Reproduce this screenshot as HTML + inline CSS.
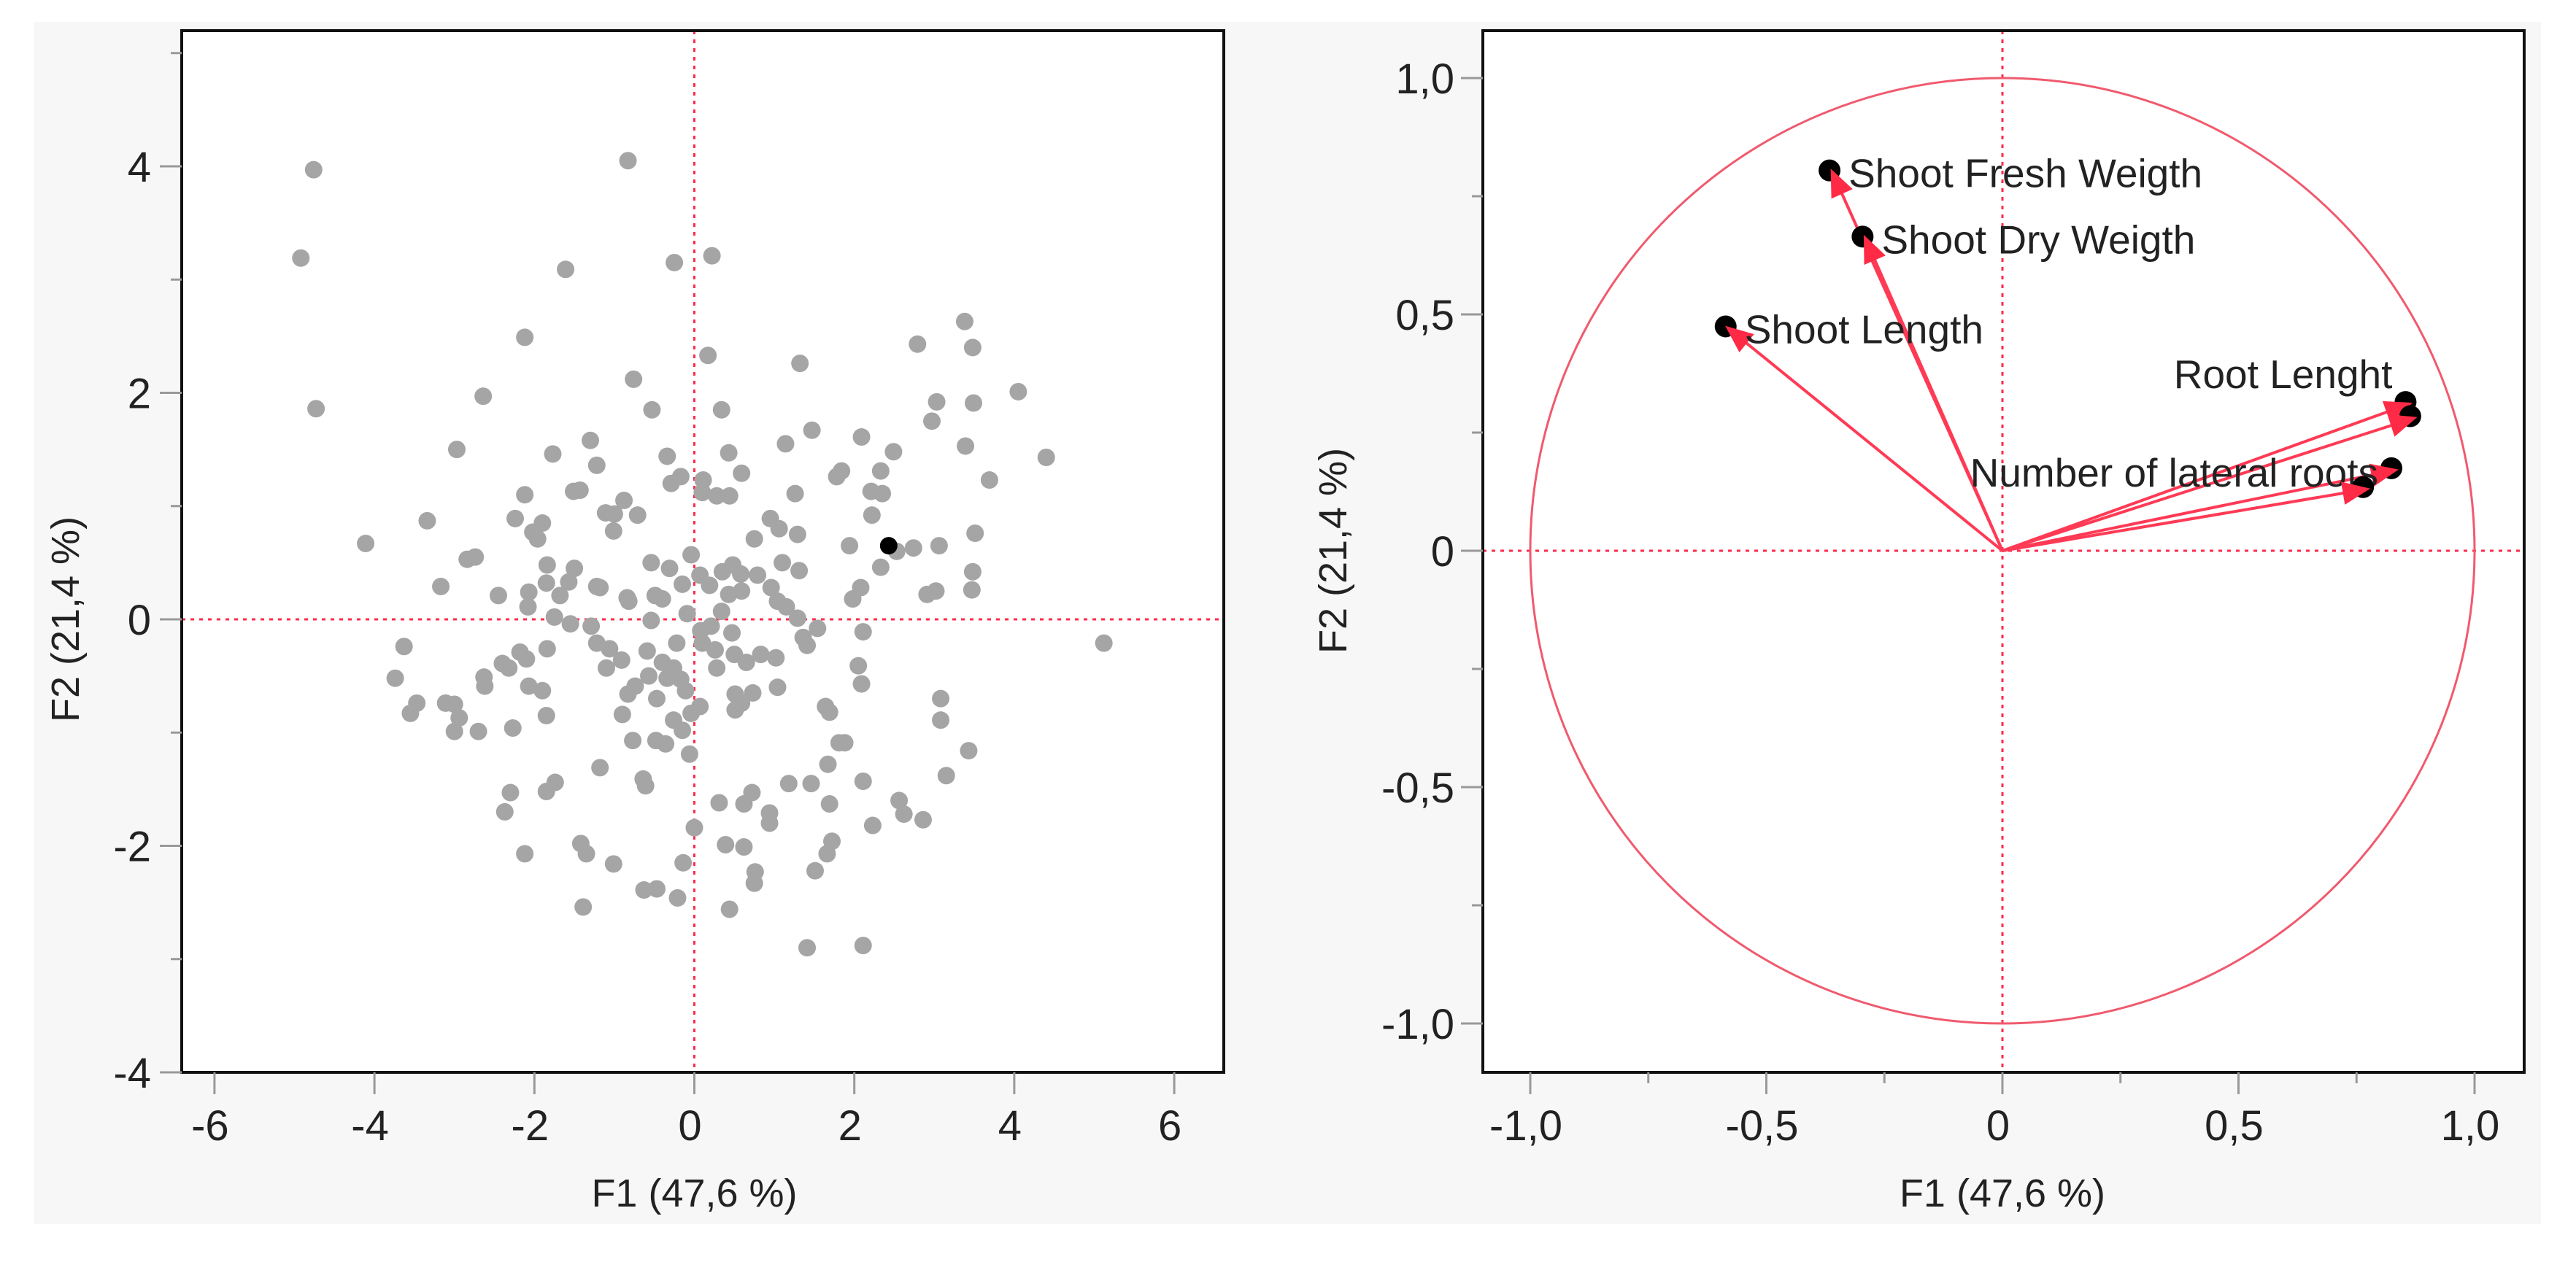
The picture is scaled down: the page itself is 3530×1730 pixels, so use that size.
<!DOCTYPE html>
<html><head><meta charset="utf-8"><style>
html,body{margin:0;padding:0;background:#fff;}
svg{display:block;font-family:"Liberation Sans",sans-serif;}
</style></head><body>
<svg id="chart" width="3530" height="1730" xmlns="http://www.w3.org/2000/svg">
<rect x="47" y="30" width="3435" height="1648" fill="#f7f7f7"/>
<g id="left"></g>
<g id="right"></g>
</svg>
<script>
const NS="http://www.w3.org/2000/svg";
const obsX=[-4.76,-0.83,-4.92,-1.61,-0.25,0.22,3.38,2.79,3.48,-2.12,0.17,1.32,-0.76,4.05,-2.64,-4.73,-0.53,0.34,3.03,3.49,2.97,1.47,2.09,1.14,-1.30,-2.97,-1.77,0.43,2.49,3.39,4.40,-0.34,-1.22,2.33,1.84,1.78,0.59,-0.17,-0.29,0.11,3.69,-1.51,-1.43,-2.12,0.10,0.28,0.44,1.26,2.21,2.35,2.22,-0.88,-1.11,-0.71,-1.00,-2.24,-3.34,-1.90,0.95,1.06,-1.01,-2.02,3.51,0.75,1.29,-4.11,1.94,2.74,3.06,2.53,-1.96,-2.74,-2.84,-0.04,-1.84,-1.50,-0.54,-0.31,1.10,1.31,2.33,3.48,0.35,0.48,0.58,0.79,0.07,-1.57,-1.85,-1.22,-1.18,-3.17,-0.15,0.19,0.96,2.08,3.47,2.91,3.02,-2.07,-2.45,-1.68,-0.84,-0.49,-0.40,0.43,0.59,1.98,-0.82,-2.08,-0.09,1.04,1.15,0.34,-1.75,1.29,-0.54,-1.29,-1.55,0.21,0.08,0.47,1.54,2.11,5.12,1.36,-3.63,-1.22,-0.22,-1.84,-1.06,-0.59,0.10,1.41,0.26,0.50,0.83,1.02,-2.18,-2.10,-2.40,-0.91,-0.40,0.65,-2.32,-1.10,-0.26,2.05,0.28,-3.74,-2.63,-0.57,-0.34,-0.17,-2.62,-2.07,-1.90,1.04,-0.74,2.09,-0.11,-0.83,0.51,0.73,3.08,-0.47,-3.11,-3.00,-3.47,0.59,0.07,1.64,-3.55,-0.90,-1.85,1.69,0.51,-0.04,-2.94,3.08,-0.26,-3.00,-2.70,-2.27,-0.15,-0.77,-0.48,-0.36,1.81,1.88,3.43,-0.06,-1.18,1.67,3.15,-0.64,-1.74,-0.61,1.18,1.46,2.11,-1.85,-2.30,0.72,2.56,0.31,0.62,1.69,-2.37,2.62,0.94,2.86,2.23,0.94,0.00,-1.42,0.39,0.62,1.72,-1.35,-2.12,1.66,-0.14,-1.01,0.76,1.51,0.75,-0.63,-0.47,-0.21,-1.39,0.44,1.41,2.11];
const obsY=[3.97,4.05,3.19,3.09,3.15,3.21,2.63,2.43,2.40,2.49,2.33,2.26,2.12,2.01,1.97,1.86,1.85,1.85,1.92,1.91,1.75,1.67,1.61,1.55,1.58,1.50,1.46,1.47,1.48,1.53,1.43,1.44,1.36,1.31,1.31,1.26,1.29,1.26,1.20,1.23,1.23,1.13,1.14,1.10,1.12,1.09,1.09,1.11,1.13,1.11,0.92,1.05,0.94,0.92,0.93,0.89,0.87,0.85,0.89,0.80,0.78,0.77,0.76,0.71,0.75,0.67,0.65,0.63,0.65,0.60,0.71,0.55,0.53,0.57,0.48,0.45,0.50,0.45,0.50,0.43,0.46,0.42,0.42,0.48,0.40,0.39,0.39,0.33,0.32,0.29,0.28,0.29,0.31,0.30,0.28,0.28,0.26,0.22,0.25,0.24,0.21,0.21,0.19,0.21,0.18,0.22,0.25,0.18,0.16,0.11,0.05,0.16,0.11,0.07,0.02,0.01,-0.01,-0.06,-0.04,-0.06,-0.10,-0.12,-0.08,-0.11,-0.21,-0.16,-0.24,-0.21,-0.21,-0.26,-0.26,-0.28,-0.21,-0.23,-0.27,-0.31,-0.31,-0.34,-0.29,-0.35,-0.39,-0.36,-0.38,-0.38,-0.43,-0.43,-0.43,-0.41,-0.43,-0.52,-0.51,-0.50,-0.52,-0.53,-0.59,-0.59,-0.63,-0.60,-0.59,-0.57,-0.63,-0.66,-0.66,-0.65,-0.70,-0.70,-0.74,-0.75,-0.74,-0.74,-0.77,-0.77,-0.83,-0.84,-0.85,-0.82,-0.80,-0.83,-0.87,-0.89,-0.89,-0.99,-0.99,-0.96,-0.98,-1.07,-1.07,-1.10,-1.09,-1.09,-1.16,-1.19,-1.31,-1.28,-1.38,-1.41,-1.44,-1.47,-1.45,-1.45,-1.43,-1.52,-1.53,-1.53,-1.60,-1.62,-1.63,-1.63,-1.70,-1.72,-1.71,-1.77,-1.82,-1.80,-1.84,-1.98,-1.99,-2.01,-1.96,-2.07,-2.07,-2.07,-2.15,-2.16,-2.23,-2.22,-2.33,-2.39,-2.38,-2.46,-2.54,-2.56,-2.90,-2.88];
const activeX=[2.43];
const activeY=[0.65];
const leftXTicks=[-6,-4,-2,0,2,4,6];
const leftYTicks=[-4,-2,0,2,4];
const leftYMinor=[-3,-1,1,3,5];
const varNames=["Shoot Fresh Weigth","Shoot Dry Weigth","Shoot Length","Root Lenght","","Number of lateral roots",""];
const varF1=[-0.36,-0.29,-0.58,0.86,0.87,0.83,0.77];
const varF2=[0.80,0.66,0.47,0.31,0.28,0.17,0.13];
const rightTicks=[-1,-0.5,0,0.5,1];
const rightTickLabels=["-1,0","-0,5","0","0,5","1,0"];
const rightMinor=[-0.75,-0.25,0.25,0.75];

function mk(tag,attrs,parent,text){const e=document.createElementNS(NS,tag);for(const k in attrs)e.setAttribute(k,attrs[k]);if(text!==undefined)e.textContent=text;parent.appendChild(e);return e;}

// left plot
const L=document.getElementById('left');
const lx=v=>951.5+v*109.6, ly=v=>849-v*155.25;
const LF={x0:249,x1:1677,y0:42,y1:1470};
let e;
e=mk('rect',{x:LF.x0,y:LF.y0,width:LF.x1-LF.x0,height:LF.y1-LF.y0,fill:'#fff'},L);

e=mk('line',{x1:LF.x0,x2:LF.x1,y1:ly(0),y2:ly(0),stroke:'#ff2a4a','stroke-width':3,'stroke-dasharray':'5 7'},L);

e=mk('line',{x1:lx(0),x2:lx(0),y1:LF.y0,y2:LF.y1,stroke:'#ff2a4a','stroke-width':3,'stroke-dasharray':'5 7'},L);

for(let i=0;i<obsX.length;i++){
  e=mk('circle',{cx:lx(obsX[i]),cy:ly(obsY[i]),r:12,fill:'#a5a5a5'},L);
  
}
for(let i=0;i<activeX.length;i++){
  e=mk('circle',{cx:lx(activeX[i]),cy:ly(activeY[i]),r:12,fill:'#000'},L);
  
}
e=mk('rect',{x:LF.x0,y:LF.y0,width:LF.x1-LF.x0,height:LF.y1-LF.y0,fill:'none',stroke:'#111','stroke-width':4},L);

leftXTicks.forEach(t=>{
  e=mk('line',{x1:lx(t),x2:lx(t),y1:LF.y1,y2:LF.y1+30,stroke:'#999','stroke-width':3},L);
  
  e=mk('text',{x:lx(t)-6,y:1563,'text-anchor':'middle','font-size':58,fill:'#222'},L,String(t));
  
});
leftYTicks.forEach(t=>{
  e=mk('line',{x1:LF.x0-30,x2:LF.x0,y1:ly(t),y2:ly(t),stroke:'#999','stroke-width':3},L);
  
  e=mk('text',{x:207,y:ly(t)+21,'text-anchor':'end','font-size':58,fill:'#222'},L,String(t));
  
});
leftYMinor.forEach(t=>{
  e=mk('line',{x1:LF.x0-15,x2:LF.x0,y1:ly(t),y2:ly(t),stroke:'#999','stroke-width':3},L);
  
});
e=mk('text',{x:lx(0),y:1654,'text-anchor':'middle','font-size':54,fill:'#222'},L,'F1 (47,6 %)');

e=mk('text',{x:0,y:0,'text-anchor':'middle','font-size':54,fill:'#222',transform:'translate(108,'+ly(0)+') rotate(-90)'},L,'F2 (21,4 %)');


// right plot
const R=document.getElementById('right');
const rx=v=>2744+v*647, ry=v=>755-v*648;
const RF={x0:2032,x1:3459,y0:42,y1:1470};
e=mk('rect',{x:RF.x0,y:RF.y0,width:RF.x1-RF.x0,height:RF.y1-RF.y0,fill:'#fff'},R);

e=mk('line',{x1:RF.x0,x2:RF.x1,y1:ry(0),y2:ry(0),stroke:'#ff2a4a','stroke-width':3,'stroke-dasharray':'5 7'},R);

e=mk('line',{x1:rx(0),x2:rx(0),y1:RF.y0,y2:RF.y1,stroke:'#ff2a4a','stroke-width':3,'stroke-dasharray':'5 7'},R);

e=mk('ellipse',{cx:rx(0),cy:ry(0),rx:rx(1)-rx(0),ry:ry(0)-ry(1),fill:'none',stroke:'#f05a6e','stroke-width':3},R);

for(let i=0;i<varF1.length;i++){
  const X=rx(varF1[i]),Y=ry(varF2[i]),X0=rx(0),Y0=ry(0);
  e=mk('circle',{cx:X-4,cy:Y-3,r:15,fill:'#000'},R);
  
  e=mk('line',{x1:X0,y1:Y0,x2:X,y2:Y,stroke:'#ff3a55','stroke-width':4},R);
  
  const a=Math.atan2(Y-Y0,X-X0),s=32,w=16;
  const bx=X-s*Math.cos(a),by=Y-s*Math.sin(a);
  const p=[X+6*Math.cos(a),Y+6*Math.sin(a),bx+w*Math.sin(a),by-w*Math.cos(a),bx-w*Math.sin(a),by+w*Math.cos(a)];
  e=mk('polygon',{points:p.join(' '),fill:'#ff2a45'},R);
  
  if(varNames[i]){
    const right=varF1[i]>0.5;
    const lbl=mk('text',{x:right?X-22:X+22,y:right?(varF2[i]>0.25?Y-22:Y+22):Y+20,'text-anchor':right?'end':'start','font-size':55,fill:'#222'},R,varNames[i]);
    
  }
}
e=mk('rect',{x:RF.x0,y:RF.y0,width:RF.x1-RF.x0,height:RF.y1-RF.y0,fill:'none',stroke:'#111','stroke-width':4},R);

rightTicks.forEach((t,i)=>{
  e=mk('line',{x1:rx(t),x2:rx(t),y1:RF.y1,y2:RF.y1+30,stroke:'#999','stroke-width':3},R);
  
  e=mk('text',{x:rx(t)-6,y:1563,'text-anchor':'middle','font-size':58,fill:'#222'},R,rightTickLabels[i]);
  
  e=mk('line',{x1:RF.x0-30,x2:RF.x0,y1:ry(t),y2:ry(t),stroke:'#999','stroke-width':3},R);
  
  e=mk('text',{x:1993,y:ry(t)+21,'text-anchor':'end','font-size':58,fill:'#222'},R,rightTickLabels[i]);
  
});
rightMinor.forEach(t=>{
  e=mk('line',{x1:rx(t),x2:rx(t),y1:RF.y1,y2:RF.y1+15,stroke:'#999','stroke-width':3},R);
  
  e=mk('line',{x1:RF.x0-15,x2:RF.x0,y1:ry(t),y2:ry(t),stroke:'#999','stroke-width':3},R);
  
});
e=mk('text',{x:rx(0),y:1654,'text-anchor':'middle','font-size':54,fill:'#222'},R,'F1 (47,6 %)');

e=mk('text',{x:0,y:0,'text-anchor':'middle','font-size':54,fill:'#222',transform:'translate(1845,'+ry(0)+') rotate(-90)'},R,'F2 (21,4 %)');

</script>
</body></html>
